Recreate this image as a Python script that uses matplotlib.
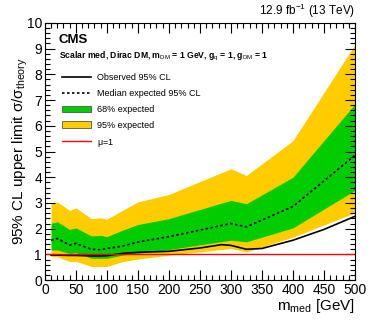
import numpy as np
import matplotlib
matplotlib.use("Agg")
import matplotlib.pyplot as plt
from matplotlib.ticker import MultipleLocator

plt.rcParams['font.family'] = ['Liberation Sans', 'DejaVu Sans']
plt.rcParams['mathtext.fontset'] = 'custom'
plt.rcParams['mathtext.rm'] = 'Liberation Sans'
plt.rcParams['mathtext.it'] = 'Liberation Sans'
plt.rcParams['mathtext.bf'] = 'Liberation Sans:bold'

# mediator mass points [GeV]
mass = [10, 20, 40, 50, 75, 90, 100, 125, 150, 200, 300, 325, 400, 500]
band95_hi = [2.97, 3.04, 2.71, 2.81, 2.39, 2.42, 2.37, 2.71, 3.04, 3.33, 4.33, 4.07, 5.42, 9.16]
band68_hi = [2.21, 2.27, 1.97, 2.03, 1.72, 1.74, 1.69, 1.94, 2.16, 2.39, 3.10, 2.97, 4.00, 6.84]
expected = [1.55, 1.62, 1.36, 1.43, 1.20, 1.18, 1.23, 1.32, 1.48, 1.69, 2.20, 2.07, 2.86, 4.85]
band68_lo = [1.17, 1.17, 1.04, 1.07, 0.85, 0.85, 0.85, 0.97, 1.05, 1.19, 1.55, 1.49, 2.03, 3.49]
band95_lo = [0.91, 0.91, 0.72, 0.73, 0.53, 0.53, 0.53, 0.72, 0.82, 0.97, 1.23, 1.10, 1.67, 2.62]

obs_mass = [10, 20, 40, 50, 75, 90, 100, 125, 150, 200, 250, 285, 300, 325, 350, 400, 450, 500]
observed = [0.97, 0.97, 0.96, 0.96, 0.94, 0.94, 0.95, 1.04, 1.08, 1.12, 1.25, 1.38, 1.35, 1.20, 1.23, 1.55, 1.97, 2.48]

fig = plt.figure(figsize=(3.74, 3.22), dpi=100)
ax = fig.add_axes([0.120, 0.130, 0.829, 0.799])

yellow = '#ffcc00'
green = '#00cc00'
ax.fill_between(mass, band95_lo, band95_hi, color=yellow, lw=0, label='95% expected')
ax.fill_between(mass, band68_lo, band68_hi, color=green, lw=0, label='68% expected')
ax.plot(obs_mass, observed, color='black', lw=1.2, label='Observed 95% CL')
ax.plot(mass, expected, color='black', lw=1.2, ls=(0, (1.5, 1.5)), label='Median expected 95% CL')
ax.axhline(1.0, color='red', lw=1.0, label=r'$\mu$=1')

ax.set_xlim(0, 500)
ax.set_ylim(0, 10)
ax.xaxis.set_major_locator(MultipleLocator(50))
ax.xaxis.set_minor_locator(MultipleLocator(10))
ax.yaxis.set_major_locator(MultipleLocator(1))
ax.yaxis.set_minor_locator(MultipleLocator(0.2))
ax.tick_params(which='both', direction='in', top=True, right=True, labelsize=10, pad=2)
ax.tick_params(which='major', length=7, width=0.8)
ax.tick_params(which='minor', length=3.5, width=0.8)

ax.set_xlabel(r'm$_{\rm med}$ [GeV]', fontsize=11, loc='right', labelpad=0)
ax.set_ylabel(r'95% CL upper limit $\sigma/\sigma_{\rm theory}$', fontsize=11, labelpad=-2)

ax.text(0.045, 0.935, 'CMS', transform=ax.transAxes, fontsize=9.5, fontweight='bold', va='center')
ax.text(0.045, 0.87, r'Scalar med, Dirac DM, m$_{\rm DM}$ = 1 GeV, g$_{\rm q}$ = 1, g$_{\rm DM}$ = 1',
        transform=ax.transAxes, fontsize=6.2, fontweight='bold', va='center')
ax.text(1.0, 1.012, r'12.9 fb$^{-1}$ (13 TeV)', transform=ax.transAxes, fontsize=8.5, ha='right', va='bottom')

h, l = ax.get_legend_handles_labels()
order = [2, 3, 1, 0, 4]
leg = ax.legend([h[i] for i in order], [l[i] for i in order], loc='upper left',
                bbox_to_anchor=(0.03, 0.835), frameon=False, fontsize=6.5,
                handlelength=3.2, labelspacing=0.75, handletextpad=0.6)
for p in leg.legend_handles[2:4]:
    p.set_edgecolor('#555555')
    p.set_linewidth(0.6)

fig.savefig('out.png', dpi=100)
